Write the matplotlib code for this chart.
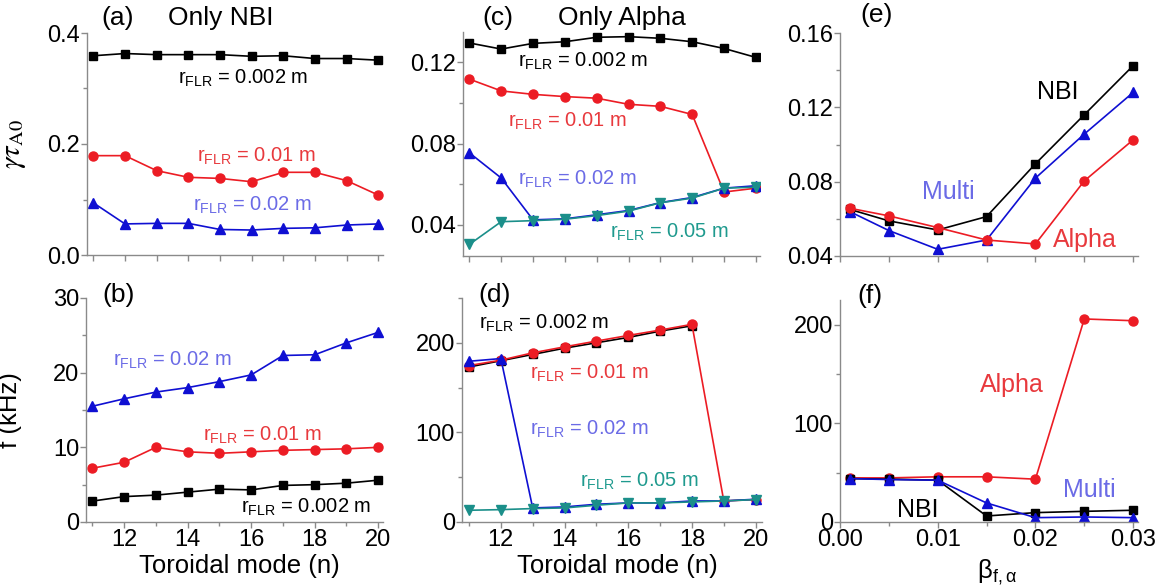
import numpy as np
import matplotlib
matplotlib.use("Agg")
import matplotlib.pyplot as plt
from matplotlib.ticker import MultipleLocator, FormatStrFormatter

plt.rcParams['font.family'] = ['Liberation Sans', 'DejaVu Sans']
plt.rcParams['mathtext.fontset'] = 'custom'
plt.rcParams['mathtext.rm'] = 'Liberation Sans'
plt.rcParams['mathtext.it'] = 'Liberation Sans:italic'

# toroidal mode numbers
n_modes = [11, 12, 13, 14, 15, 16, 17, 18, 19, 20]
n_modes_d_black = [11, 12, 13, 14, 15, 16, 17, 18]

# (a) growth rate, only NBI
a_r002 = [0.359, 0.363, 0.361, 0.361, 0.361, 0.358, 0.359, 0.354, 0.354, 0.351]
a_r01 = [0.179, 0.179, 0.152, 0.140, 0.138, 0.132, 0.149, 0.149, 0.134, 0.108]
a_r02 = [0.094, 0.056, 0.057, 0.057, 0.046, 0.045, 0.048, 0.049, 0.054, 0.056]

# (b) frequency, only NBI
b_r002 = [2.8, 3.4, 3.6, 4.0, 4.4, 4.3, 4.9, 5.0, 5.2, 5.6]
b_r01 = [7.2, 8.0, 10.0, 9.4, 9.2, 9.4, 9.6, 9.7, 9.8, 10.0]
b_r02 = [15.5, 16.5, 17.4, 18.0, 18.8, 19.7, 22.3, 22.4, 24.0, 25.4]

# (c) growth rate, only alpha
c_r002 = [0.1296, 0.1266, 0.1294, 0.1302, 0.1324, 0.1327, 0.1319, 0.1302, 0.1269, 0.1225]
c_r01 = [0.1118, 0.1060, 0.1043, 0.1032, 0.1024, 0.0994, 0.0984, 0.0944, 0.0562, 0.0581]
c_r02 = [0.0755, 0.0631, 0.0425, 0.0430, 0.0450, 0.0471, 0.0510, 0.0535, 0.0581, 0.0593]
c_r05 = [0.0304, 0.0416, 0.0421, 0.0428, 0.0446, 0.0468, 0.0509, 0.0532, 0.0581, 0.0586]

# (d) frequency, only alpha
d_r002 = [173, 180, 187, 194, 200, 206, 213, 219]
d_r01 = [174.6, 180.6, 188.8, 195.5, 201.9, 208.2, 214.2, 220.6, 23.5, 25.0]
d_r02 = [179.4, 182.4, 15.7, 16.8, 19.8, 21.3, 21.3, 23.5, 23.5, 25.4]
d_r05 = [13.1, 13.8, 15.0, 15.7, 18.7, 21.3, 21.3, 22.4, 23.5, 25.0]

# (e), (f) vs beta
beta = [0.001, 0.005, 0.010, 0.015, 0.020, 0.025, 0.030]
e_nbi = [0.0651, 0.0589, 0.0540, 0.0612, 0.0896, 0.1160, 0.1424]
e_alpha = [0.0657, 0.0616, 0.0553, 0.0486, 0.0465, 0.0804, 0.1025]
e_multi = [0.0639, 0.0537, 0.0436, 0.0486, 0.0819, 0.1056, 0.1280]
f_nbi = [44.0, 43.4, 42.4, 6.1, 9.5, 10.8, 11.9]
f_alpha = [44.7, 44.7, 45.8, 45.8, 43.4, 205.8, 204.0]
f_multi = [44.0, 43.0, 42.4, 19.3, 4.4, 5.1, 4.4]

BLACK = 'black'
RED = '#ec1c24'
BLUE = '#0f0fd2'
TEAL = '#1b8f8a'
RED_T = '#e8393d'
BLUE_T = '#6b6be6'
TEAL_T = '#1f9a8e'

TICK_FS = 17
LAB_FS = 18.5
TITLE_FS = 19
R_FS = 14.5
NAME_FS = 18

W, H = 1172, 587
fig = plt.figure(figsize=(W / 100, H / 100), dpi=100)


def make_ax(l, r, t, b):
    return fig.add_axes([l / W, 1 - b / H, (r - l) / W, (b - t) / H])


def rlabel(val):
    return r'r$_{\mathrm{FLR}}$ = ' + val + ' m'


ax_a = make_ax(87, 383, 33, 255)
ax_b = make_ax(86, 383, 298, 522)
ax_c = make_ax(463, 760, 32, 256)
ax_d = make_ax(462, 762, 298, 522)
ax_e = make_ax(840, 1138, 33, 256)
ax_f = make_ax(840, 1138, 300, 522)

lw = 1.2
mk = dict(s=dict(marker='s', ms=5.5), o=dict(marker='o', ms=6.5),
          u=dict(marker='^', ms=7), v=dict(marker='v', ms=7))

for ax in [ax_a, ax_b, ax_c, ax_d, ax_e, ax_f]:
    for s in ['top', 'right']:
        ax.spines[s].set_visible(False)
    for s in ['left', 'bottom']:
        ax.spines[s].set_color('#8a8a8a')
        ax.spines[s].set_linewidth(1.0)
    ax.tick_params(which='both', direction='out', color='#8a8a8a', labelsize=TICK_FS, width=1.0, pad=1)
    ax.tick_params(which='major', length=4)
    ax.tick_params(which='minor', length=3)
    ax.patch.set_alpha(0)

# (a)
ax_a.plot(n_modes, a_r002, color=BLACK, lw=lw, **mk['s'])
ax_a.plot(n_modes, a_r01, color=RED, lw=lw, **mk['o'])
ax_a.plot(n_modes, a_r02, color=BLUE, lw=lw, **mk['u'])
ax_a.set_xlim(10.8, 20.15)
ax_a.set_ylim(0, 0.4)
ax_a.xaxis.set_major_locator(MultipleLocator(1))
ax_a.set_xticklabels([])
ax_a.yaxis.set_major_locator(MultipleLocator(0.2))
ax_a.yaxis.set_minor_locator(MultipleLocator(0.1))
ax_a.yaxis.set_major_formatter(FormatStrFormatter('%.1f'))
ax_a.text(13.68, 0.319, rlabel('0.002'), color=BLACK, fontsize=R_FS, va='center')
ax_a.text(14.28, 0.177, rlabel('0.01'), color=RED_T, fontsize=R_FS, va='center')
ax_a.text(14.15, 0.090, rlabel('0.02'), color=BLUE_T, fontsize=R_FS, va='center')
ax_a.text(0.05, 1.068, '(a)', transform=ax_a.transAxes, fontsize=TITLE_FS, va='center')
ax_a.text(0.274, 1.068, 'Only NBI', transform=ax_a.transAxes, fontsize=TITLE_FS, va='center')
ax_a.set_ylabel(r'$\gamma\tau_{\mathrm{A0}}$', fontsize=21, math_fontfamily='stix')
ax_a.yaxis.set_label_coords(-0.2, 0.5)

# (b)
ax_b.plot(n_modes, b_r002, color=BLACK, lw=lw, **mk['s'])
ax_b.plot(n_modes, b_r01, color=RED, lw=lw, **mk['o'])
ax_b.plot(n_modes, b_r02, color=BLUE, lw=lw, **mk['u'])
ax_b.set_xlim(10.8, 20.15)
ax_b.set_ylim(0, 30)
ax_b.xaxis.set_major_locator(MultipleLocator(2))
ax_b.xaxis.set_minor_locator(MultipleLocator(1))
ax_b.yaxis.set_major_locator(MultipleLocator(10))
ax_b.yaxis.set_minor_locator(MultipleLocator(5))
ax_b.text(11.65, 21.7, rlabel('0.02'), color=BLUE_T, fontsize=R_FS, va='center')
ax_b.text(14.48, 11.65, rlabel('0.01'), color=RED_T, fontsize=R_FS, va='center')
ax_b.text(15.68, 2.0, rlabel('0.002'), color=BLACK, fontsize=R_FS, va='center')
ax_b.text(0.054, 1.013, '(b)', transform=ax_b.transAxes, fontsize=TITLE_FS, va='center')
ax_b.set_ylabel('f (kHz)', fontsize=LAB_FS)
ax_b.yaxis.set_label_coords(-0.215, 0.5)
ax_b.set_xlabel('Toroidal mode (n)', fontsize=LAB_FS)
ax_b.xaxis.set_label_coords(0.518, -0.145)

# (c)
ax_c.plot(n_modes, c_r002, color=BLACK, lw=lw, **mk['s'])
ax_c.plot(n_modes, c_r01, color=RED, lw=lw, **mk['o'])
ax_c.plot(n_modes, c_r02, color=BLUE, lw=lw, **mk['u'])
ax_c.plot(n_modes, c_r05, color=TEAL, lw=lw, **mk['v'])
ax_c.set_xlim(10.8, 20.13)
ax_c.set_ylim(0.0247, 0.135)
ax_c.xaxis.set_major_locator(MultipleLocator(1))
ax_c.set_xticklabels([])
ax_c.yaxis.set_major_locator(MultipleLocator(0.04))
ax_c.yaxis.set_minor_locator(MultipleLocator(0.02))
ax_c.yaxis.set_major_formatter(FormatStrFormatter('%.2f'))
ax_c.text(12.54, 0.1205, rlabel('0.002'), color=BLACK, fontsize=R_FS, va='center')
ax_c.text(12.22, 0.0909, rlabel('0.01'), color=RED_T, fontsize=R_FS, va='center')
ax_c.text(12.54, 0.0622, rlabel('0.02'), color=BLUE_T, fontsize=R_FS, va='center')
ax_c.text(15.42, 0.0365, rlabel('0.05'), color=TEAL_T, fontsize=R_FS, va='center')
ax_c.text(0.064, 1.0625, '(c)', transform=ax_c.transAxes, fontsize=TITLE_FS, va='center')
ax_c.text(0.32, 1.0625, 'Only Alpha', transform=ax_c.transAxes, fontsize=TITLE_FS, va='center')

# (d)
ax_d.plot(n_modes_d_black, d_r002, color=BLACK, lw=lw, **mk['s'])
ax_d.plot(n_modes, d_r01, color=RED, lw=lw, **mk['o'])
ax_d.plot(n_modes, d_r02, color=BLUE, lw=lw, **mk['u'])
ax_d.plot(n_modes, d_r05, color=TEAL, lw=lw, **mk['v'])
ax_d.set_xlim(10.78, 20.2)
ax_d.set_ylim(0, 250)
ax_d.xaxis.set_major_locator(MultipleLocator(2))
ax_d.xaxis.set_minor_locator(MultipleLocator(1))
ax_d.yaxis.set_major_locator(MultipleLocator(100))
ax_d.yaxis.set_minor_locator(MultipleLocator(50))
ax_d.text(11.31, 222, rlabel('0.002'), color=BLACK, fontsize=R_FS, va='center')
ax_d.text(12.9, 166, rlabel('0.01'), color=RED_T, fontsize=R_FS, va='center')
ax_d.text(12.9, 103, rlabel('0.02'), color=BLUE_T, fontsize=R_FS, va='center')
ax_d.text(14.47, 45, rlabel('0.05'), color=TEAL_T, fontsize=R_FS, va='center')
ax_d.text(0.053, 1.013, '(d)', transform=ax_d.transAxes, fontsize=TITLE_FS, va='center')
ax_d.set_xlabel('Toroidal mode (n)', fontsize=LAB_FS)
ax_d.xaxis.set_label_coords(0.517, -0.145)

# (e)
ax_e.plot(beta, e_nbi, color=BLACK, lw=lw, **mk['s'])
ax_e.plot(beta, e_multi, color=BLUE, lw=lw, **mk['u'])
ax_e.plot(beta, e_alpha, color=RED, lw=lw, **mk['o'])
ax_e.set_xlim(0, 0.0305)
ax_e.set_ylim(0.04, 0.16)
ax_e.xaxis.set_major_locator(MultipleLocator(0.005))
ax_e.set_xticklabels([])
ax_e.yaxis.set_major_locator(MultipleLocator(0.04))
ax_e.yaxis.set_minor_locator(MultipleLocator(0.02))
ax_e.yaxis.set_major_formatter(FormatStrFormatter('%.2f'))
ax_e.text(0.0202, 0.128, 'NBI', color=BLACK, fontsize=NAME_FS, va='center')
ax_e.text(0.0084, 0.0745, 'Multi', color=BLUE_T, fontsize=NAME_FS, va='center')
ax_e.text(0.0218, 0.0486, 'Alpha', color=RED_T, fontsize=NAME_FS, va='center')
ax_e.text(0.067, 1.08, '(e)', transform=ax_e.transAxes, fontsize=TITLE_FS, va='center')

# (f)
ax_f.plot(beta, f_alpha, color=RED, lw=lw, **mk['o'])
ax_f.plot(beta, f_nbi, color=BLACK, lw=lw, **mk['s'])
ax_f.plot(beta, f_multi, color=BLUE, lw=lw, **mk['u'])
ax_f.set_xlim(0, 0.0305)
ax_f.set_ylim(0, 225)
ax_f.xaxis.set_major_locator(MultipleLocator(0.01))
ax_f.xaxis.set_minor_locator(MultipleLocator(0.005))
ax_f.xaxis.set_major_formatter(FormatStrFormatter('%.2f'))
ax_f.yaxis.set_major_locator(MultipleLocator(100))
ax_f.yaxis.set_minor_locator(MultipleLocator(50))
ax_f.text(0.0143, 139, 'Alpha', color=RED_T, fontsize=NAME_FS, va='center')
ax_f.text(0.0228, 32.5, 'Multi', color=BLUE_T, fontsize=NAME_FS, va='center')
ax_f.text(0.0058, 12, 'NBI', color=BLACK, fontsize=NAME_FS, va='center')
ax_f.text(0.057, 1.02, '(f)', transform=ax_f.transAxes, fontsize=TITLE_FS, va='center')
ax_f.set_xlabel(r'$\mathrm{β}_{\mathrm{f,α}}$', fontsize=LAB_FS)
ax_f.xaxis.set_label_coords(0.527, -0.16)

fig.savefig('out.png', dpi=100)
